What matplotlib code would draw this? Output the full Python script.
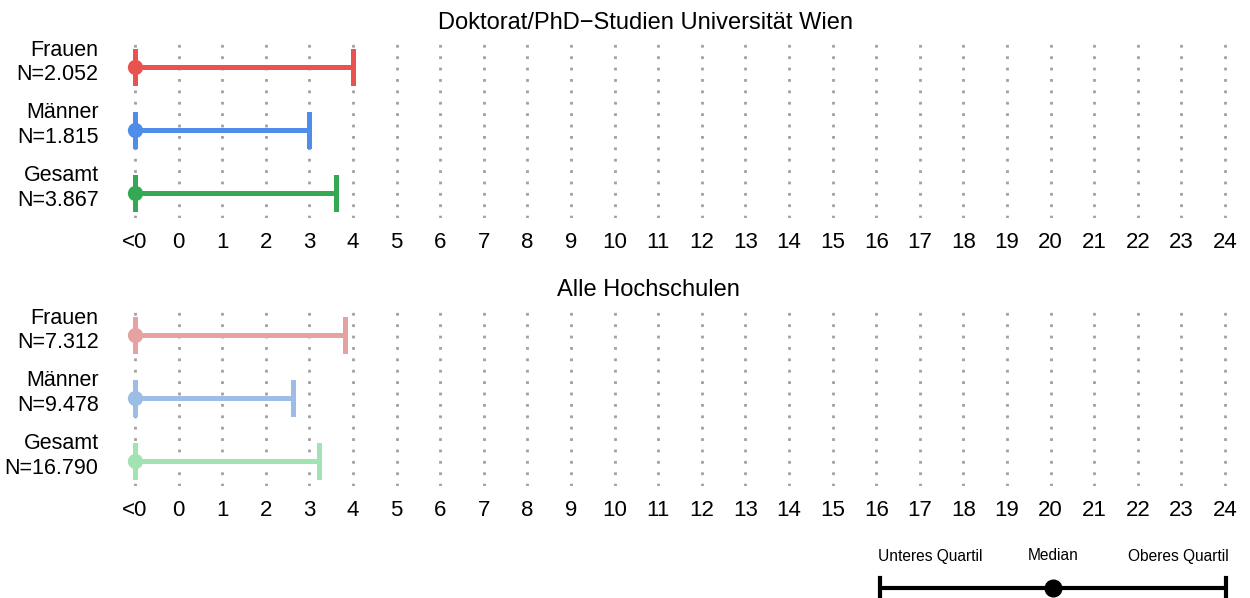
import matplotlib.pyplot as plt
from matplotlib.transforms import ScaledTranslation

plt.rcParams['font.family'] = ['Liberation Sans', 'DejaVu Sans']

# Daten (Quartile / Median, in Tick-Einheiten; "<0" = -1)
gruppen = ['Frauen', 'Männer', 'Gesamt']
n_uni = ['2.052', '1.815', '3.867']
n_alle = ['7.312', '9.478', '16.790']
q1_uni = [-1, -1, -1]
median_uni = [-1, -1, -1]
q3_uni = [4.0, 3.0, 3.62]
q1_alle = [-1, -1, -1]
median_alle = [-1, -1, -1]
q3_alle = [3.82, 2.62, 3.22]
tick_pos = list(range(-1, 25))
tick_labels = ['<0'] + [str(i) for i in range(0, 25)]

farben_uni = ['#E8534F', '#4F8DEB', '#35A853']
farben_alle = ['#E6A1A1', '#9DBDE6', '#A1E3B3']

fig = plt.figure(figsize=(12.5, 5.98), dpi=100)
W, H = 1250, 598


def panel(top_px, titel, titel_x, titel_y, ns, q1, med, q3, farben):
    bottom_px = top_px + 176
    ax = fig.add_axes([125 / W, 1 - bottom_px / H, 1110 / W, 176 / H])
    ax.set_xlim(-1.23, 24.23)
    ax.set_ylim(0.6, 3.4)
    for x in tick_pos:
        ax.axvline(x, color='#A0A0A0', lw=2, ls=(0, (1, 3.1)), zorder=0)
    ys = [3, 2, 1]
    for i, y in enumerate(ys):
        ax.plot([q1[i], q3[i]], [y, y], color=farben[i], lw=3.6, solid_capstyle='butt')
        ax.plot([q1[i], q1[i]], [y - 0.25, y + 0.25], color=farben[i], lw=3.6)
        ax.plot([q3[i], q3[i]], [y - 0.25, y + 0.25], color=farben[i], lw=3.6)
        ax.plot(med[i], y, 'o', color=farben[i], ms=11, mew=0)
    ax.set_yticks(ys)
    ax.set_yticklabels([f'{g}\nN={n}' for g, n in zip(gruppen, ns)],
                       fontsize=15.5, linespacing=1.2)
    ax.tick_params(axis='y', length=0, pad=19)
    verschieb = ScaledTranslation(0, 9 / 100, fig.dpi_scale_trans)
    for lab in ax.get_yticklabels():
        lab.set_transform(lab.get_transform() + verschieb)
    ax.set_xticks(tick_pos)
    ax.set_xticklabels(tick_labels, fontsize=16)
    ax.tick_params(axis='x', length=0, pad=10)
    for s in ax.spines.values():
        s.set_visible(False)
    fig.text(titel_x / W, 1 - titel_y / H, titel, fontsize=17,
             ha='center', va='baseline')
    return ax


panel(42, 'Doktorat/PhD\u2212Studien Universität Wien', 646, 29,
      n_uni, q1_uni, median_uni, q3_uni, farben_uni)
panel(310, 'Alle Hochschulen', 648, 296,
      n_alle, q1_alle, median_alle, q3_alle, farben_alle)

# Legende
lg = fig.add_axes([0, 0, 1, 1], facecolor='none')
lg.set_xlim(0, W)
lg.set_ylim(H, 0)
lg.axis('off')
lg.plot([880, 1226], [588, 588], color='black', lw=3, solid_capstyle='butt')
lg.plot([880, 880], [578, 600], color='black', lw=3)
lg.plot([1226, 1226], [578, 600], color='black', lw=3)
lg.plot(1053, 588, 'o', color='black', ms=12)
lg.text(878, 556, 'Unteres Quartil', fontsize=11.2, ha='left', va='center')
lg.text(1053, 556, 'Median', fontsize=11.2, ha='center', va='center')
lg.text(1229, 556, 'Oberes Quartil', fontsize=11.2, ha='right', va='center')

fig.savefig('out.png', dpi=100)
